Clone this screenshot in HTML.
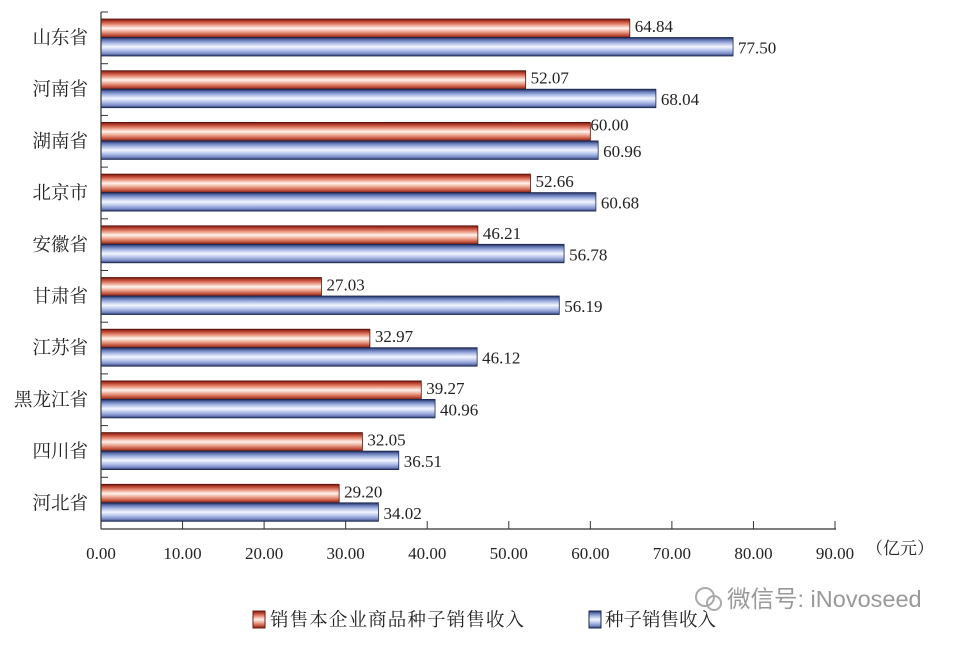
<!DOCTYPE html>
<html><head><meta charset="utf-8"><style>
body{margin:0;background:#fff;}
svg text{font-family:"Liberation Serif","Noto Serif CJK SC",serif;fill:#222;}
</style></head><body>
<svg width="960" height="641" viewBox="0 0 960 641" xmlns="http://www.w3.org/2000/svg">
<defs>
<linearGradient id="r" x1="0" y1="0" x2="0" y2="1">
<stop offset="0" stop-color="#6e1810"/><stop offset="0.12" stop-color="#b8402c"/><stop offset="0.3" stop-color="#e8907a"/><stop offset="0.5" stop-color="#fff4ee"/><stop offset="0.7" stop-color="#eba08a"/><stop offset="0.88" stop-color="#c0503a"/><stop offset="1" stop-color="#7a2016"/>
</linearGradient>
<linearGradient id="b" x1="0" y1="0" x2="0" y2="1">
<stop offset="0" stop-color="#1c2850"/><stop offset="0.12" stop-color="#5c70b0"/><stop offset="0.3" stop-color="#a8b8e4"/><stop offset="0.5" stop-color="#f4f6ff"/><stop offset="0.7" stop-color="#b4c2ea"/><stop offset="0.88" stop-color="#7888c4"/><stop offset="1" stop-color="#2a3668"/>
</linearGradient>
</defs>
<g id="bars"></g>
<line x1="101" y1="12" x2="101" y2="529" stroke="#333" stroke-width="1.2"/>
<line x1="101" y1="529" x2="836" y2="529" stroke="#333" stroke-width="1.2"/>
<g id="ticks"></g>
<text x="900" y="554" font-size="17" text-anchor="middle">（亿元）</text>
<rect x="253" y="611" width="12" height="17" fill="url(#r)" stroke="#6e1810" stroke-width="1"/>
<text x="270" y="626" font-size="18.5" textLength="254" lengthAdjust="spacing">销售本企业商品种子销售收入</text>
<rect x="589" y="611" width="12" height="17" fill="url(#b)" stroke="#1c2850" stroke-width="1"/>
<text x="605" y="626" font-size="18.5">种子销售收入</text>
<circle cx="705" cy="597" r="9" fill="none" stroke="#aaa" stroke-width="2"/>
<circle cx="714" cy="603" r="7" fill="none" stroke="#aaa" stroke-width="2"/>
<text x="727" y="607" font-size="23.5" style="font-family:'Liberation Sans','Noto Sans CJK SC',sans-serif;fill:#999">微信号: iNovoseed</text>
</svg>
<script>
var d=[["山东省",64.84,77.50],["河南省",52.07,68.04],["湖南省",60.00,60.96],["北京市",52.66,60.68],["安徽省",46.21,56.78],["甘肃省",27.03,56.19],["江苏省",32.97,46.12],["黑龙江省",39.27,40.96],["四川省",32.05,36.51],["河北省",29.20,34.02]];
var s=734/90,x0=101,g=document.getElementById("bars"),h="";
d.forEach(function(r,i){var top=12+i*51.7;var y1=top+7,y2=y1+18.5;
h+='<rect x="'+x0+'" y="'+y1+'" width="'+(r[1]*s)+'" height="18.5" fill="url(#r)" stroke="#5a1008" stroke-width="0.8"/>';
h+='<rect x="'+x0+'" y="'+y2+'" width="'+(r[2]*s)+'" height="18.5" fill="url(#b)" stroke="#1c2850" stroke-width="0.8"/>';
var lx1=x0+r[1]*s+5; if(i==2) lx1-=5;
h+='<text x="'+lx1+'" y="'+(y1+(i==2?8:13))+'" font-size="17">'+r[1].toFixed(2)+'</text>';
h+='<text x="'+(x0+r[2]*s+5)+'" y="'+(y2+16)+'" font-size="17">'+r[2].toFixed(2)+'</text>';
h+='<text x="88" y="'+(top+32)+'" font-size="18.5" text-anchor="end">'+r[0]+'</text>';
h+='<line x1="101" y1="'+top+'" x2="108" y2="'+top+'" stroke="#333"/>';});
g.innerHTML=h;
var t="";for(var k=0;k<=9;k++){var x=x0+k*10*s;t+='<line x1="'+x+'" y1="521" x2="'+x+'" y2="529" stroke="#333"/><text x="'+x+'" y="559" font-size="17" text-anchor="middle">'+(k*10).toFixed(2)+'</text>';}
document.getElementById("ticks").innerHTML=t;
</script>
</body></html>
